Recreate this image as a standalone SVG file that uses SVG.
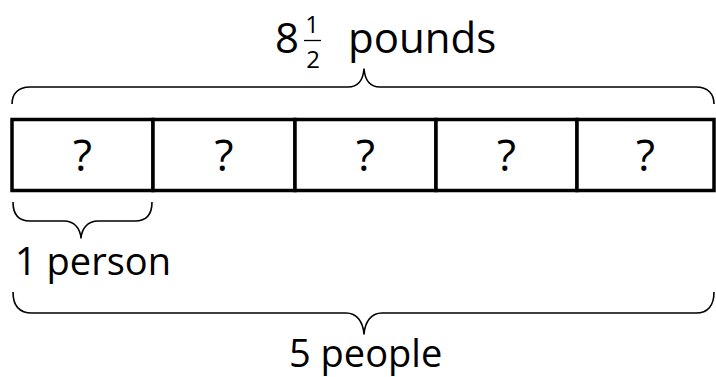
<svg xmlns="http://www.w3.org/2000/svg" width="716" height="377" viewBox="0 0 716 377">
  <style>
    .lbl { font-family: "Open Sans", "Noto Sans", "Liberation Sans", sans-serif; fill: #000; }
    .big { font-size: 42px; }
    .mid { font-size: 38px; }
    .q { font-size: 44px; text-anchor: middle; }
    .frac { font-size: 24px; text-anchor: middle; }
    .brace { fill: none; stroke: #000; stroke-width: 1.6; stroke-linejoin: round; }
    .cell { fill: #fff; stroke: #000; stroke-width: 3.5; }
  </style>
  <rect x="0" y="0" width="716" height="377" fill="#fff"/>

  <g id="label-total">
    <text class="lbl big" x="275" y="53">8</text>
    <text class="lbl frac" x="312" y="33">1</text>
    <line x1="304" y1="40.5" x2="321" y2="40.5" stroke="#000" stroke-width="1.3"/>
    <text class="lbl frac" x="313" y="68">2</text>
    <text class="lbl big" x="348" y="53">pounds</text>
  </g>

  <g id="tape">
    <g id="cell1"><rect class="cell" x="12" y="119.5" width="141" height="71"/><text class="lbl q" x="82.5" y="171">?</text></g>
    <g id="cell2"><rect class="cell" x="153" y="119.5" width="142" height="71"/><text class="lbl q" x="224" y="171">?</text></g>
    <g id="cell3"><rect class="cell" x="295" y="119.5" width="141" height="71"/><text class="lbl q" x="365.5" y="171">?</text></g>
    <g id="cell4"><rect class="cell" x="436" y="119.5" width="141" height="71"/><text class="lbl q" x="506.5" y="171">?</text></g>
    <g id="cell5"><rect class="cell" x="577" y="119.5" width="137" height="71"/><text class="lbl q" x="645.5" y="171">?</text></g>
  </g>

  <g id="connectors">
    <path id="brace-top" class="brace" d="M12,104 C12,94 18,87 30,87 L348,87 C358,87 363,80 364,69 C365,80 370,87 380,87 L696,87 C708,87 714,94 714,104"/>
    <path id="brace-person" class="brace" d="M13,202 C13,214 18,221 30,221 L64,221 C74,221 80,228 81,238 C82,228 88,221 98,221 L135,221 C147,221 152,214 152,202"/>
    <path id="brace-people" class="brace" d="M13,292 C13,305 19,313 32,313 L346,313 C357,313 363,322 364,334 C365,322 371,313 382,313 L696,313 C708,313 714,305 714,292"/>
  </g>

  <g id="label-person">
    <text class="lbl mid" x="15" y="275">1 person</text>
  </g>
  <g id="label-people">
    <text class="lbl mid" x="289" y="367">5 people</text>
  </g>
</svg>
